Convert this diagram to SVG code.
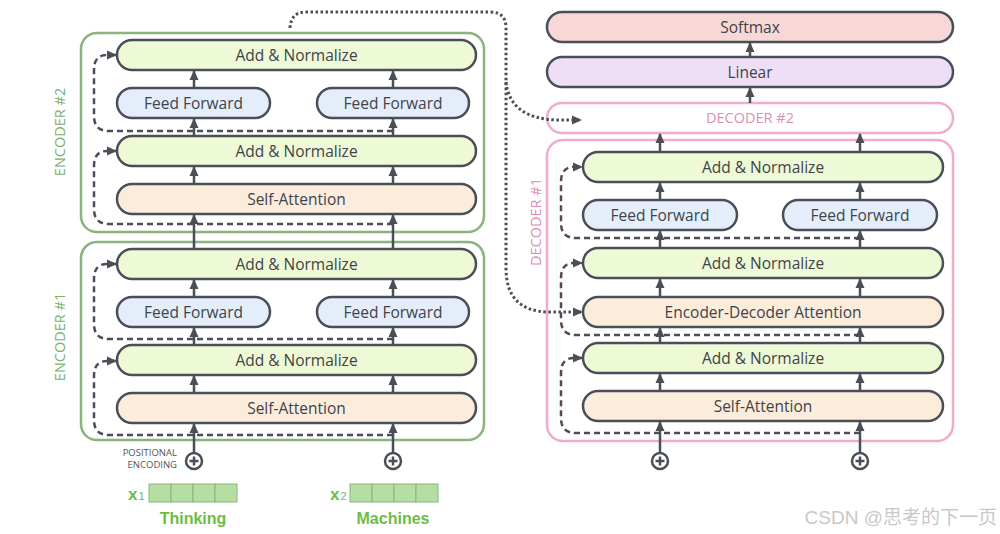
<svg xmlns="http://www.w3.org/2000/svg" width="1000" height="534" viewBox="0 0 1000 534">
<style>
.box{stroke:#4a4f57;stroke-width:2.5}
.an{fill:#eef9d6}
.ff{fill:#e4eefb}
.sa{fill:#fcecdc}
.t{font-family:"Open Sans","DejaVu Sans",sans-serif;font-size:15.5px;font-weight:500;fill:#3f434a;text-anchor:middle}
.arr{stroke:#4a4f57;stroke-width:2.5;fill:none;marker-end:url(#ah)}
.dash{stroke:#4a4f57;stroke-width:2.5;fill:none;stroke-dasharray:6 4;marker-end:url(#ah)}
.dot{stroke:#4a4f57;stroke-width:3;fill:none;stroke-dasharray:2.5 2.5;marker-end:url(#ah)}
.enc{fill:none;stroke:#8ab37e;stroke-width:2.5}
.dec{fill:#fff;stroke:#f2abcf;stroke-width:2.5}
.elab{font-family:"Open Sans","DejaVu Sans",sans-serif;font-size:14.5px;fill:#7ab26a;text-anchor:middle}
.dlab{font-family:"Open Sans","DejaVu Sans",sans-serif;font-size:14.5px;fill:#d98fb6;text-anchor:middle}
.plus{fill:#fff;stroke:#4a4f57;stroke-width:2.5}
.cell{fill:#b5dfa2;stroke:#8bb37a;stroke-width:1}
.word{font-family:"Liberation Sans",Arial,sans-serif;font-weight:bold;font-size:16px;fill:#6cbd45;text-anchor:middle}
</style>
<defs>
<marker id="ah" markerWidth="10" markerHeight="10" refX="9" refY="5" orient="auto" markerUnits="userSpaceOnUse"><path d="M0,0.5 L10,5 L0,9.5 z" fill="#4a4f57"/></marker>
<g id="plusSym"><circle cx="0" cy="0" r="8" class="plus"/><path d="M-4.5,0 H4.5 M0,-4.5 V4.5" stroke="#4a4f57" stroke-width="2.5"/></g>
</defs>
<rect width="1000" height="534" fill="#fff"/>

<!-- Encoder containers -->
<g id="encoder2">
<rect x="81" y="33" width="403" height="199" rx="16" class="enc"/>
<text class="elab" transform="translate(65,132) rotate(-90)">ENCODER #2</text>
</g>
<g id="encoder1">
<rect x="81" y="242" width="403" height="198" rx="16" class="enc"/>
<text class="elab" transform="translate(65,337) rotate(-90)">ENCODER #1</text>
</g>

<!-- Decoder containers -->
<g id="decoder1">
<rect x="547" y="140" width="406" height="301" rx="16" class="dec"/>
<text class="dlab" transform="translate(541,222) rotate(-90)">DECODER #1</text>
</g>
<g id="decoder2">
<rect x="547" y="103" width="406" height="30" rx="15" class="dec"/>
<text class="dlab" x="750" y="123">DECODER #2</text>
</g>

<!-- Encoder 2 nodes -->
<g id="e2-an2"><rect x="117" y="40" width="359" height="30" rx="15" class="box an"/><text class="t" x="296.5" y="61">Add &amp; Normalize</text></g>
<g id="e2-ff1"><rect x="117" y="88" width="153" height="30" rx="15" class="box ff"/><text class="t" x="193.5" y="109">Feed Forward</text></g>
<g id="e2-ff2"><rect x="317" y="88" width="152" height="30" rx="15" class="box ff"/><text class="t" x="393" y="109">Feed Forward</text></g>
<g id="e2-an1"><rect x="117" y="136" width="359" height="30" rx="15" class="box an"/><text class="t" x="296.5" y="157">Add &amp; Normalize</text></g>
<g id="e2-sa"><rect x="117" y="184" width="359" height="30" rx="15" class="box sa"/><text class="t" x="296.5" y="205">Self-Attention</text></g>

<!-- Encoder 1 nodes -->
<g id="e1-an2"><rect x="117" y="249" width="359" height="30" rx="15" class="box an"/><text class="t" x="296.5" y="270">Add &amp; Normalize</text></g>
<g id="e1-ff1"><rect x="117" y="297" width="153" height="30" rx="15" class="box ff"/><text class="t" x="193.5" y="318">Feed Forward</text></g>
<g id="e1-ff2"><rect x="317" y="297" width="152" height="30" rx="15" class="box ff"/><text class="t" x="393" y="318">Feed Forward</text></g>
<g id="e1-an1"><rect x="117" y="345" width="359" height="30" rx="15" class="box an"/><text class="t" x="296.5" y="366">Add &amp; Normalize</text></g>
<g id="e1-sa"><rect x="117" y="393" width="359" height="30" rx="15" class="box sa"/><text class="t" x="296.5" y="414">Self-Attention</text></g>

<!-- Output nodes -->
<g id="softmax"><rect x="547" y="12" width="406" height="30" rx="15" class="box" fill="#f8d8d6"/><text class="t" x="750" y="33">Softmax</text></g>
<g id="linear"><rect x="547" y="57" width="406" height="30" rx="15" class="box" fill="#eedff7"/><text class="t" x="750" y="78">Linear</text></g>

<!-- Decoder 1 nodes -->
<g id="d1-an3"><rect x="583" y="152" width="360" height="30" rx="15" class="box an"/><text class="t" x="763" y="173">Add &amp; Normalize</text></g>
<g id="d1-ff1"><rect x="583" y="200" width="154" height="30" rx="15" class="box ff"/><text class="t" x="660" y="221">Feed Forward</text></g>
<g id="d1-ff2"><rect x="783" y="200" width="154" height="30" rx="15" class="box ff"/><text class="t" x="860" y="221">Feed Forward</text></g>
<g id="d1-an2"><rect x="583" y="248" width="360" height="30" rx="15" class="box an"/><text class="t" x="763" y="269">Add &amp; Normalize</text></g>
<g id="d1-eda"><rect x="583" y="297" width="360" height="30" rx="15" class="box sa"/><text class="t" x="763" y="318">Encoder-Decoder Attention</text></g>
<g id="d1-an1"><rect x="583" y="343" width="360" height="30" rx="15" class="box an"/><text class="t" x="763" y="364">Add &amp; Normalize</text></g>
<g id="d1-sa"><rect x="583" y="391" width="360" height="30" rx="15" class="box sa"/><text class="t" x="763" y="412">Self-Attention</text></g>

<!-- Inputs -->
<g id="pe1"><use href="#plusSym" x="194" y="461"/></g>
<g id="pe2"><use href="#plusSym" x="393" y="461"/></g>
<g id="pe3"><use href="#plusSym" x="660" y="461"/></g>
<g id="pe4"><use href="#plusSym" x="860" y="461"/></g>
<g id="pe-label" font-family="'Open Sans','DejaVu Sans',sans-serif" font-size="9.5" font-weight="500" fill="#555" text-anchor="end">
<text x="177" y="456">POSITIONAL</text>
<text x="177" y="468">ENCODING</text>
</g>
<g id="x1">
<text x="128" y="500" font-family="'Liberation Sans',Arial,sans-serif" font-weight="bold" font-size="17" fill="#6cbd45">x<tspan font-size="11" font-weight="normal" dx="1">1</tspan></text>
<rect x="149" y="484" width="22" height="18" class="cell"/><rect x="171" y="484" width="22" height="18" class="cell"/><rect x="193" y="484" width="22" height="18" class="cell"/><rect x="215" y="484" width="22" height="18" class="cell"/>
<text class="word" x="193" y="524">Thinking</text>
</g>
<g id="x2">
<text x="330" y="500" font-family="'Liberation Sans',Arial,sans-serif" font-weight="bold" font-size="17" fill="#6cbd45">x<tspan font-size="11" font-weight="normal" dx="1">2</tspan></text>
<rect x="350" y="484" width="22" height="18" class="cell"/><rect x="372" y="484" width="22" height="18" class="cell"/><rect x="394" y="484" width="22" height="18" class="cell"/><rect x="416" y="484" width="22" height="18" class="cell"/>
<text class="word" x="393" y="524">Machines</text>
</g>

<!-- Connectors -->
<g id="connectors">
<!-- encoder residuals -->
<path class="dash" d="M393,435 H109 Q94,435 94,420 V376 Q94,361 107,361 H116"/>
<path class="dash" d="M393,339 H109 Q94,339 94,324 V279 Q94,264 107,264 H116"/>
<path class="dash" d="M393,224 H109 Q94,224 94,209 V166 Q94,151 107,151 H116"/>
<path class="dash" d="M393,131 H109 Q94,131 94,116 V70 Q94,55 107,55 H116"/>
<!-- decoder residuals -->
<path class="dash" d="M860,433 H576 Q561,433 561,418 V373 Q561,358 574,358 H582"/>
<path class="dash" d="M860,335 H576 Q561,335 561,320 V278 Q561,263 574,263 H582"/>
<path class="dash" d="M860,238 H576 Q561,238 561,223 V182 Q561,167 574,167 H582"/>
<!-- encoder solid arrows -->
<path class="arr" d="M194,453 V424"/><path class="arr" d="M393,453 V424"/>
<path class="arr" d="M194,393 V376"/><path class="arr" d="M393,393 V376"/>
<path class="arr" d="M194,345 V328"/><path class="arr" d="M393,345 V328"/>
<path class="arr" d="M194,297 V280"/><path class="arr" d="M393,297 V280"/>
<path class="arr" d="M194,249 V215"/><path class="arr" d="M393,249 V215"/>
<path class="arr" d="M194,184 V167"/><path class="arr" d="M393,184 V167"/>
<path class="arr" d="M194,136 V119"/><path class="arr" d="M393,136 V119"/>
<path class="arr" d="M194,88 V71"/><path class="arr" d="M393,88 V71"/>
<!-- decoder solid arrows -->
<path class="arr" d="M660,453 V422"/><path class="arr" d="M860,453 V422"/>
<path class="arr" d="M660,391 V374"/><path class="arr" d="M860,391 V374"/>
<path class="arr" d="M660,343 V328"/><path class="arr" d="M860,343 V328"/>
<path class="arr" d="M660,297 V279"/><path class="arr" d="M860,297 V279"/>
<path class="arr" d="M660,248 V231"/><path class="arr" d="M860,248 V231"/>
<path class="arr" d="M660,200 V183"/><path class="arr" d="M860,200 V183"/>
<path class="arr" d="M660,152 V134"/><path class="arr" d="M860,152 V134"/>
<path class="arr" d="M750,103 V88"/>
<path class="arr" d="M750,57 V43"/>
<!-- encoder output to decoders (dotted) -->
<path class="dot" d="M290,28 Q291,12 306,12 H490 Q506,12 506,28 V268 Q506,312 550,312 H582"/>
<path class="dot" d="M506,82 Q510,119 558,120 H581"/>
</g>

<text x="997" y="524" text-anchor="end" font-family="'Liberation Sans','Noto Sans CJK SC',sans-serif" font-size="19" fill="#c8c8c8">CSDN @思考的下一页</text>
</svg>
